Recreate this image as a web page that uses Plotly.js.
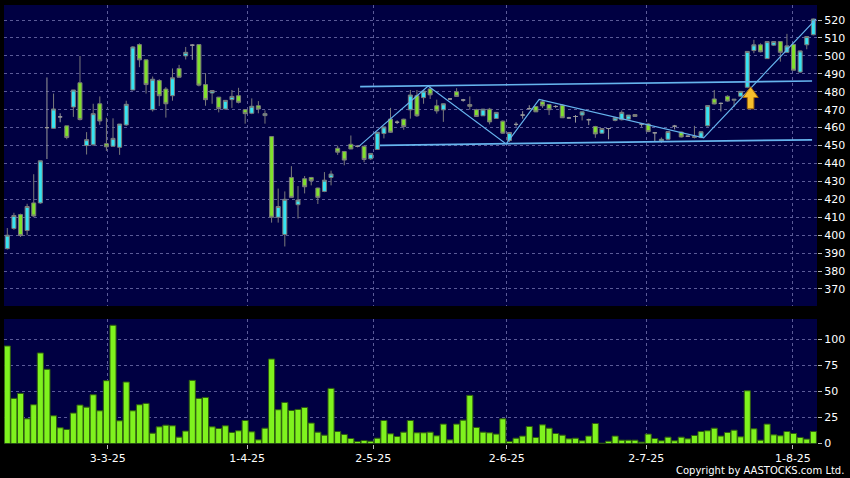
<!DOCTYPE html>
<html><head><meta charset="utf-8">
<script src="https://cdn.plot.ly/plotly-3.0.1.min.js"></script>
<style>html,body{margin:0;padding:0;background:#000;}#chart{width:850px;height:478px;}</style>
</head><body><div id="chart"></div>
<script>
// ---- data ----
const openP = [392.5,403.7,411.5,402.6,418,418,460,459.6,466,461,
  471.5,485,450,450.4,473.3,451,449.6,449,461.5,481,
  506.3,497.8,470,486.3,481.5,477.8,493,500,506,506.3,
  484,479.3,477,470.4,475.6,477.8,470,468,472.2,466.7,
  455,410,400.4,432.2,417,431.5,432.2,426.3,424.4,432.2,
  448.5,446.7,450.7,449.6,449.6,442.6,447.8,456.7,464.8,463,
  464.7,469.9,477.8,476.7,481.6,472.2,469.9,476,480,475.4,
  472.9,470,466.6,470.3,465.1,463.6,452.8,461.8,467,470.6,
  471.8,474.4,472.9,471.8,472.5,465.4,466.2,467,464.4,460.6,
  456.9,459.5,464,464.4,464.7,467.3,462,462,457.1,452.4,
  453.5,460.8,457.5,455.2,455,454.5,461,476,473.5,477.5,
  475.3,477.5,482.5,503,506.2,498.5,506,508,502,506.4,
  491,506.2,511.8];
const highP = [404,412.5,412,417.5,434,441.5,488,479,468,461,
  481,500,457.5,473.3,477.4,465.5,465.2,462,475,505.5,
  507,498,488.5,487,482.6,493,495,505,506.5,506.5,
  490.4,481,477,475.2,481,482.2,470,476.3,474.8,469.6,
  455,426,424.4,438.5,427.4,433,432.5,426.5,435.2,436,
  450,447,455.6,450,450,445.6,457.4,460.5,471,464,
  465,481,481,481,483,475.6,473.5,476.5,482,476,
  477.4,470.5,470.5,471,468.5,464,457.5,463,469.2,472.5,
  472,475.5,473,472.5,473,466,467,469,465,461,
  459.5,459.7,466,469.6,467,467.5,462.5,462.5,457.5,454.5,
  458,461.5,457.8,455.5,461,458,472.4,481,474,478,
  476,480.3,502.5,509,507,508,508,508.2,512.3,506.5,
  503,511,520.8];
const lowP = [392,403,399,400,410,417.5,442.5,459.5,463,453.5,
  466,464,445,450,461.5,447,449.5,444.8,461,481,
  493.7,479,469,472,465.6,475,488,498,497.8,483,
  472.2,473.3,468.5,470,471,473.5,462.2,467.5,468,462.2,
  407,407,393.7,421,409.3,423.3,427.8,417.4,424,427.8,
  444.8,439,448,449,440.7,442,447.5,454,457,462,
  458.8,465,466,473.3,476,467.8,463.2,475.5,477.4,474.5,
  470,466,466.5,461.8,465,456.5,452,460.6,465,470,
  468.8,471,467,471,465.5,465,462.8,464,461.4,454.3,
  456.5,453.5,463.5,464,464.5,466,460.5,457.5,452,451.5,
  453,459,454.5,455,454,454,460.7,473,469,474.5,
  471.5,477,482,501.5,502,498.3,505.5,496.8,501.8,492,
  490.5,503.7,511.5];
const closeP = [400,411,399.8,416,410.7,441.5,460,470.4,466,454.5,
  481,464.5,453.3,467.8,463.7,449.3,454,462,473,505,
  497.8,484,487,477.8,473.3,487.8,488.1,502,506,483.7,
  475.6,480.7,470.7,475.2,477.4,474.1,467.8,471.9,470.4,467.8,
  410,416,420,421.1,419.6,427,430.4,421.1,430.7,434.1,
  446.3,441.9,448.1,449.6,442.2,445.6,457.4,460.4,457.4,463,
  460.6,478.2,466.6,480.4,478.3,469.3,473.3,476,477.4,475.4,
  471.9,466.2,470.3,463.2,468.5,456.9,457.3,461.8,467,470.6,
  468.8,472.2,470,471.8,465.5,465.4,466.2,468.8,464.4,456.5,
  459.5,459.5,465.5,468.5,467,466.2,462,457.8,457.1,453.5,
  457.8,460.8,454.8,455.2,454.6,457.7,472.3,473.2,473.5,474.8,
  475.8,480.2,502.5,506.2,502.3,508,508,502,505.6,492,
  502.8,510.8,520.6];
const volume = [93.6,43.3,48.1,23.7,37.2,86.9,71.2,26.6,15.1,13.5,
  29.2,36.9,34.9,46.8,31.4,60.3,113.5,21.8,59,31.4,
  37.2,38.5,9.9,16,17.6,17,6.1,11.9,60.6,43.3,
  44.2,16,14.4,17,10.6,12.2,22.1,11.2,3.5,14.7,
  81.1,32.4,39.4,31.7,32.7,34.6,19.6,10.9,8,52.9,
  11.5,8.7,4.8,1.9,2.9,2.2,5.1,22.1,9.3,6.7,
  10.9,22.1,10.3,10.3,10.9,7.4,18.6,3.5,18.6,22.4,
  46.2,15.4,10.9,10.3,9,23.7,1.9,5.1,7.1,16.3,
  5.8,17.9,14.7,9.6,8,4.5,5.1,2.6,7.1,19.2,
  0.3,2.2,7.1,3.2,3.2,3.2,1.3,9,4.8,2.6,
  6.1,2.6,6.1,4.5,7.7,11.5,12.2,14.7,7.1,10.6,
  12.8,6.4,50.6,14.1,3.2,18.6,8.3,7.4,11.5,9.6,
  5.8,4.2,11.5];
const tickPos = [15.2, 36.3, 55.4, 75.6, 96.7, 118.9];
const tickLabels = ['3-3-25','1-4-25','2-5-25','2-6-25','2-7-25','1-8-25'];
const priceTicks = [370,380,390,400,410,420,430,440,450,460,470,480,490,500,510,520];
const volTicks = [0,25,50,75,100];
// drawn trend lines (bar index, price)
const channelTopX = [53.4, 121.8], channelTopY = [482.9, 486.0];
const channelBotX = [56.4, 121.8], channelBotY = [450.1, 453.2];
const zigzagX = [53.3, 63.7, 75.5, 80.5, 105.4, 122.4];
const zigzagY = [449.8, 483.2, 450.9, 475.8, 454.3, 520.5];
const arrowX = 112.5, arrowY = 482.8;

// ---- build ----
const idx = openP.map((_, i) => i);
const isDoji = i => Math.abs(closeP[i] - openP[i]) < 0.05;
const pick = (arr, want) => idx.filter(i => isDoji(i) === want).map(i => arr[i]);

const CYAN = '#36e4f2', GREEN = '#80e02c', EDGE = '#7a7a7a', TREND = '#66b4ee';

const traces = [
  {type:'candlestick', xaxis:'x', yaxis:'y',
   x: pick(idx,false), open: pick(openP,false), high: pick(highP,false), low: pick(lowP,false), close: pick(closeP,false),
   increasing:{fillcolor:CYAN, line:{color:EDGE, width:1}},
   decreasing:{fillcolor:GREEN, line:{color:EDGE, width:1}},
   hoverinfo:'skip'},
  {type:'candlestick', xaxis:'x', yaxis:'y',
   x: pick(idx,true), open: pick(openP,true), high: pick(highP,true), low: pick(lowP,true), close: pick(closeP,true),
   increasing:{fillcolor:'#9a9a9a', line:{color:'#9a9a9a', width:1}},
   decreasing:{fillcolor:'#9a9a9a', line:{color:'#9a9a9a', width:1}},
   hoverinfo:'skip'},
  {type:'scatter', mode:'lines', x:channelTopX, y:channelTopY, line:{color:TREND, width:1.7}, hoverinfo:'skip'},
  {type:'scatter', mode:'lines', x:channelBotX, y:channelBotY, line:{color:TREND, width:1.7}, hoverinfo:'skip'},
  {type:'scatter', mode:'lines', x:zigzagX, y:zigzagY, line:{color:TREND, width:1.2}, hoverinfo:'skip'},
  {type:'bar', xaxis:'x2', yaxis:'y2', x: idx, y: volume,
   marker:{color:'#7ff21e', line:{color:'#2f5c10', width:1}}, hoverinfo:'skip'}
];

// arrow marker (shape around the arrow anchor)
const hw = 1.15, sw = 0.5, headH = 6, tail = 12.3;
const arrowPath = `M ${arrowX},${arrowY} L ${arrowX+hw},${arrowY-headH} L ${arrowX+sw},${arrowY-headH} L ${arrowX+sw},${arrowY-tail} L ${arrowX-sw},${arrowY-tail} L ${arrowX-sw},${arrowY-headH} L ${arrowX-hw},${arrowY-headH} Z`;

const GRID = '#5b5b98', DASH = '3px,3px';
const xdom = [4/850, 817/850];
const layout = {
  width:850, height:478, margin:{l:0,r:0,t:0,b:0},
  paper_bgcolor:'#000000', plot_bgcolor:'#000042',
  showlegend:false, boxgap:0.14, bargap:0.08,
  font:{family:'DejaVu Sans', size:11, color:'#ffffff'},
  xaxis:{domain:xdom, anchor:'y', range:[-0.5,122.55], rangeslider:{visible:false},
    tickmode:'array', tickvals:tickPos, ticktext:tickLabels, showticklabels:false, ticks:'',
    showgrid:true, gridcolor:GRID, griddash:DASH, gridwidth:1, zeroline:false, showline:false, fixedrange:true},
  yaxis:{domain:[1-306/478, 1-5/478], anchor:'x', range:[360.5,528.4], side:'right',
    tickmode:'array', tickvals:priceTicks, ticks:'outside', ticklen:4, tickcolor:'#bbbbbb',
    showgrid:true, gridcolor:GRID, griddash:DASH, zeroline:false, showline:false, fixedrange:true},
  xaxis2:{domain:xdom, anchor:'y2', matches:'x', range:[-0.5,122.55],
    tickmode:'array', tickvals:tickPos, ticktext:tickLabels, ticks:'outside', ticklen:4, tickcolor:'#bbbbbb',
    showgrid:true, gridcolor:GRID, griddash:DASH, zeroline:false, showline:false, fixedrange:true},
  yaxis2:{domain:[1-443.5/478, 1-319/478], anchor:'x2', range:[0,119.5], side:'right',
    tickmode:'array', tickvals:volTicks, ticks:'outside', ticklen:4, tickcolor:'#bbbbbb',
    showgrid:true, gridcolor:GRID, griddash:DASH, zeroline:false, showline:false, fixedrange:true},
  shapes:[{type:'path', xref:'x', yref:'y', path:arrowPath, fillcolor:'#f6be2c', line:{color:'#a86a08', width:1}}],
  annotations:[{text:'Copyright by AASTOCKS.com Ltd.', xref:'paper', yref:'paper', x:0.995, y:0.0,
    xanchor:'right', yanchor:'bottom', showarrow:false, font:{size:10, color:'#ffffff'}}]
};
Plotly.newPlot('chart', traces, layout, {displayModeBar:false, staticPlot:true});
</script></body></html>
